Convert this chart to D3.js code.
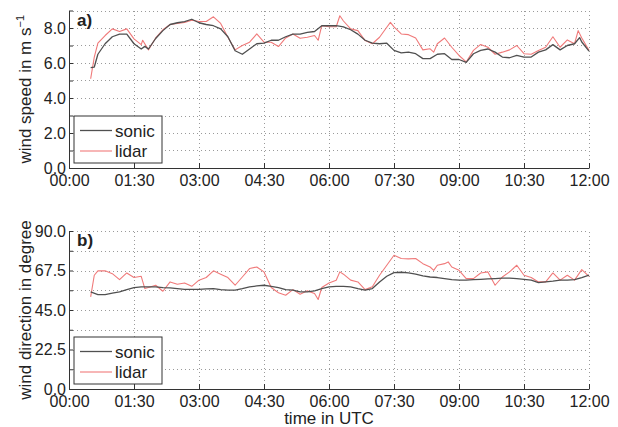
<!DOCTYPE html>
<html>
<head>
<meta charset="utf-8">
<script src="https://cdn.jsdelivr.net/npm/d3@7"></script>
<style>
body { margin: 0; background: #fff; }
text { font-family: "Liberation Sans", Arial, Helvetica, sans-serif; fill: #222; }
</style>
</head>
<body>
<div id="chart"></div>
<script>
// ---------- data ----------
const timeTicks = ["00:00", "01:30", "03:00", "04:30", "06:00", "07:30", "09:00", "10:30", "12:00"];
const seriesNames = ["sonic", "lidar"];

// a) wind speed, m/s
const speedSonicTime = ["00:30","00:35","00:40","00:50","01:00","01:10","01:20","01:30","01:40","01:45","01:50","02:00","02:10","02:20","02:30","02:40","02:50","03:00","03:10","03:20","03:30","03:40","03:50","04:00","04:10","04:20","04:30","04:40","04:50","05:00","05:10","05:20","05:30","05:40","05:50","06:00","06:10","06:20","06:30","06:40","06:50","07:00","07:10","07:20","07:30","07:40","07:50","08:00","08:10","08:20","08:30","08:40","08:50","09:00","09:10","09:20","09:30","09:40","09:50","10:00","10:10","10:20","10:30","10:40","10:50","11:00","11:10","11:20","11:30","11:40","11:47","11:50","12:00"];
const speedSonic = [5.74,5.77,6.5,7.1,7.5,7.65,7.65,7.1,6.8,6.95,6.8,7.4,7.85,8.2,8.3,8.37,8.5,8.3,8.2,8.13,7.95,7.5,6.7,6.5,6.8,7.1,7.13,7.3,7.3,7.5,7.65,7.65,7.75,7.8,8.13,8.13,8.13,8.07,7.9,7.65,7.3,7.13,7.1,7.13,6.72,6.58,6.62,6.53,6.25,6.25,6.5,6.53,6.2,6.2,6.04,6.53,6.72,6.8,6.62,6.34,6.3,6.43,6.34,6.34,6.62,6.75,7.05,6.75,7.0,7.1,7.45,7.2,6.68];

const speedLidarTime = ["00:30","00:35","00:40","00:50","01:00","01:10","01:20","01:30","01:40","01:42","01:50","02:00","02:10","02:20","02:30","02:40","02:50","03:00","03:10","03:20","03:30","03:40","03:50","04:00","04:10","04:20","04:30","04:40","04:50","05:00","05:10","05:20","05:30","05:40","05:45","05:50","06:00","06:10","06:15","06:20","06:30","06:40","06:50","07:00","07:10","07:20","07:25","07:30","07:40","07:50","08:00","08:10","08:20","08:25","08:30","08:40","08:50","09:00","09:10","09:20","09:30","09:40","09:50","10:00","10:10","10:20","10:30","10:40","10:50","11:00","11:10","11:20","11:30","11:40","11:45","11:50","12:00"];
const speedLidar = [5.1,6.34,7.13,7.57,7.95,7.8,7.95,7.38,7.05,7.3,6.75,7.43,7.9,8.2,8.26,8.32,8.45,8.37,8.37,8.64,8.26,7.47,6.75,7.0,7.19,7.66,7.19,7.19,6.94,7.43,7.66,7.41,7.47,7.57,7.3,8.13,8.07,8.07,8.7,8.4,7.95,7.85,7.28,7.1,7.47,8.04,8.32,8.07,7.66,7.62,7.43,6.75,6.81,6.62,7.1,7.43,6.9,6.43,6.06,6.72,7.06,6.9,6.5,6.62,6.75,7.0,6.53,6.5,6.72,6.9,7.5,6.9,7.32,7.1,7.85,7.43,6.72];

// b) wind direction, degree
const dirSonicTime = ["00:30","00:40","00:50","01:00","01:10","01:20","01:30","01:40","01:50","02:00","02:10","02:20","02:30","02:40","02:50","03:00","03:10","03:20","03:30","03:40","03:50","04:00","04:10","04:20","04:30","04:40","04:50","05:00","05:10","05:20","05:30","05:40","05:50","06:00","06:10","06:20","06:30","06:40","06:50","07:00","07:10","07:20","07:30","07:40","07:50","08:00","08:10","08:20","08:30","08:40","08:50","09:00","09:10","09:20","09:30","09:40","09:50","10:00","10:10","10:20","10:30","10:40","10:50","11:00","11:10","11:20","11:30","11:40","11:50","12:00"];
const dirSonic = [55.3,53.8,53.8,54.6,55.3,56.6,57.8,58.2,58.2,58.2,57.8,57.6,57.2,56.8,56.8,56.8,57.0,57.2,56.6,56.3,56.3,57.2,58.2,58.7,59.1,58.5,57.8,56.6,56.3,55.3,55.3,55.9,57.2,58.2,58.5,58.5,58.2,57.2,56.3,57.2,61.0,64.2,66.3,66.5,66.1,65.4,64.4,63.8,63.5,62.9,62.3,62.0,62.0,62.3,62.5,62.7,62.9,63.1,63.1,62.9,62.5,62.0,60.6,61.0,61.4,62.0,62.0,62.3,63.5,64.8];

const dirLidarTime = ["00:30","00:35","00:40","00:50","01:00","01:10","01:20","01:30","01:40","01:45","01:50","02:00","02:10","02:20","02:30","02:40","02:50","03:00","03:10","03:20","03:30","03:40","03:50","04:00","04:10","04:20","04:30","04:40","04:50","05:00","05:10","05:20","05:30","05:40","05:45","05:50","06:00","06:10","06:15","06:20","06:30","06:40","06:50","07:00","07:10","07:20","07:30","07:40","07:50","08:00","08:10","08:20","08:25","08:30","08:40","08:45","08:50","09:00","09:10","09:20","09:30","09:40","09:50","10:00","10:10","10:20","10:30","10:40","10:50","11:00","11:10","11:20","11:30","11:40","11:50","12:00"];
const dirLidar = [52.5,64.8,67.3,67.3,65.7,62.3,66.1,63.5,64.2,57.2,57.8,59.1,55.7,61.0,59.7,60.4,58.5,62.0,63.5,67.3,65.4,63.5,59.1,63.8,68.6,69.5,66.7,57.8,54.8,53.4,56.6,54.0,55.9,54.4,51.0,57.8,60.4,62.0,66.7,65.4,62.0,61.0,56.6,58.2,64.8,70.5,76.2,74.3,74.1,74.3,71.4,69.5,67.6,70.5,71.4,72.4,69.5,67.6,62.9,62.9,66.1,66.7,59.1,63.8,66.7,70.5,64.8,63.5,61.0,61.0,66.1,62.0,64.8,62.0,68.0,64.2];

// ---------- set up ----------
const width = 618, height = 427;
const colors = { sonic: "#505050", lidar: "#f07a7a" };

const svg = d3.select("#chart").append("svg")
    .attr("width", width)
    .attr("height", height);

const toHours = s => { const [h, m] = s.split(":").map(Number); return h + m / 60; };

const xScale = d3.scaleLinear().domain([0, 12]).range([69, 589]);

const panels = [
    {
        tag: "a)", bottom: 168, top: 10.5, max: 9, step: 1, labelStep: 2,
        fmt: d => d.toFixed(1),
        title: ["wind speed in m s", "\u22121"],
        series: [
            { name: "sonic", t: speedSonicTime, v: speedSonic },
            { name: "lidar", t: speedLidarTime, v: speedLidar }
        ]
    },
    {
        tag: "b)", bottom: 389, top: 231, max: 90, step: 11.25, labelStep: 22.5,
        fmt: d => d.toFixed(1),
        title: ["wind direction in degree"],
        series: [
            { name: "sonic", t: dirSonicTime, v: dirSonic },
            { name: "lidar", t: dirLidarTime, v: dirLidar }
        ]
    }
];

panels.forEach(p => {
    const yScale = d3.scaleLinear().domain([0, p.max]).range([p.bottom, p.top]);
    const g = svg.append("g");
    const gridY = d3.range(p.step, p.max + 0.001, p.step);
    const labelY = d3.range(0, p.max + 0.001, p.labelStep);
    const xTicks = timeTicks.map(toHours);

    // dotted grid
    g.append("g").selectAll("line.h").data(gridY).join("line")
        .attr("x1", xScale(0)).attr("x2", xScale(12))
        .attr("y1", d => Math.round(yScale(d)) + 0.5).attr("y2", d => Math.round(yScale(d)) + 0.5)
        .attr("stroke", "#9a9a9a").attr("stroke-width", 1).attr("stroke-dasharray", "1,3");
    g.append("g").selectAll("line.v").data(xTicks.slice(1)).join("line")
        .attr("x1", d => Math.round(xScale(d)) + 0.5).attr("x2", d => Math.round(xScale(d)) + 0.5)
        .attr("y1", p.bottom).attr("y2", p.top)
        .attr("stroke", "#9a9a9a").attr("stroke-width", 1).attr("stroke-dasharray", "1,3");

    // lines (lidar first, sonic on top)
    const line = d3.line().x(d => xScale(d[0])).y(d => yScale(d[1]));
    p.series.slice().reverse().forEach(s => {
        const pts = s.t.map((t, i) => [toHours(t), s.v[i]]);
        g.append("path").datum(pts)
            .attr("d", line)
            .attr("fill", "none")
            .attr("stroke", colors[s.name])
            .attr("stroke-width", s.name === "sonic" ? 1.3 : 1.1)
            .attr("stroke-linejoin", "round");
    });

    // axes
    const xAxis = d3.axisBottom(xScale)
        .tickValues(xTicks)
        .tickFormat((d, i) => timeTicks[i])
        .tickSizeInner(-5).tickSizeOuter(0).tickPadding(7);
    const xg = g.append("g").attr("transform", `translate(0,${p.bottom})`).call(xAxis);
    xg.selectAll("text").style("font-size", "16px").attr("fill", "#222");

    const yAxis = d3.axisLeft(yScale)
        .tickValues(d3.range(0, p.max + 0.001, p.step))
        .tickFormat(d => labelY.some(l => Math.abs(l - d) < 1e-6) ? p.fmt(d) : "")
        .tickSizeInner(-4).tickSizeOuter(0).tickPadding(3);
    const yg = g.append("g").attr("transform", `translate(${xScale(0)},0)`).call(yAxis);
    yg.selectAll("text").style("font-size", "16px").attr("fill", "#222");

    [xg, yg].forEach(a => {
        a.select(".domain").attr("stroke", "#333");
        a.selectAll(".tick line").attr("stroke", "#333");
    });

    // panel tag
    g.append("text")
        .attr("x", 77).attr("y", p.top + 15)
        .style("font-size", "17px").style("font-weight", "bold")
        .text(p.tag);

    // legend
    const lg = g.append("g").attr("transform", `translate(74,${p.bottom - 52})`);
    lg.append("rect").attr("width", 88).attr("height", 47)
        .attr("fill", "#fff").attr("stroke", "#333").attr("stroke-width", 1);
    seriesNames.forEach((n, i) => {
        const yy = 14.5 + i * 20.5;
        lg.append("line").attr("x1", 6).attr("x2", 38).attr("y1", yy).attr("y2", yy)
            .attr("stroke", colors[n]).attr("stroke-width", n === "sonic" ? 1.3 : 1.1);
        lg.append("text").attr("x", 41).attr("y", yy + 6)
            .style("font-size", "17px").text(n);
    });

    // y title
    const yt = g.append("text")
        .attr("transform", `translate(31,${(p.top + p.bottom) / 2}) rotate(-90)`)
        .attr("text-anchor", "middle")
        .style("font-size", "17px");
    yt.append("tspan").text(p.title[0]);
    if (p.title[1]) {
        yt.append("tspan").attr("dy", -7).style("font-size", "11px").text(p.title[1]);
    }
});

svg.append("text")
    .attr("x", xScale(6)).attr("y", 424)
    .attr("text-anchor", "middle")
    .style("font-size", "17px")
    .text("time in UTC");
</script>
</body>
</html>
